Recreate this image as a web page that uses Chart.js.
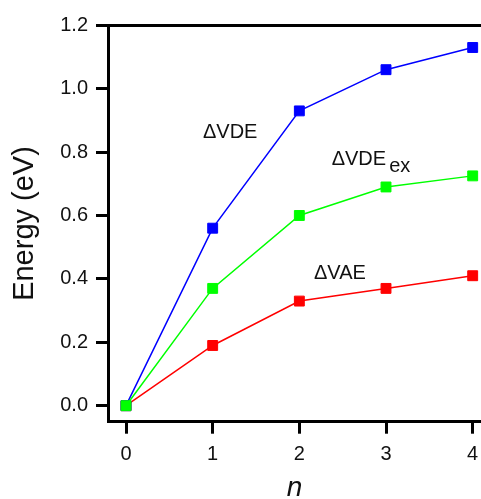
<!DOCTYPE html>
<html>
<head>
<meta charset="utf-8">
<script src="https://cdn.jsdelivr.net/npm/chart.js@4/dist/chart.umd.min.js"></script>
<style>
  html, body { margin: 0; padding: 0; background: #fff; }
  canvas { display: block; }
</style>
</head>
<body>
<canvas id="c" width="481" height="499"></canvas>
<script>
// ---- data ----
const nValues = [0, 1, 2, 3, 4];
const vde = [0, 0.56, 0.93, 1.06, 1.13];
const vdeEx = [0, 0.37, 0.60, 0.69, 0.725];
const vae = [0, 0.19, 0.33, 0.37, 0.41];
const xTicks = [0, 1, 2, 3, 4];
const yTicks = [0, 0.2, 0.4, 0.6, 0.8, 1.0, 1.2];
const curveLabels = [
  { text: 'ΔVDE', sub: '', x: 0.888, y: 0.845 },
  { text: 'ΔVDE', sub: 'ex', x: 2.373, y: 0.759 },
  { text: 'ΔVAE', sub: '', x: 2.169, y: 0.400 }
];

const FONT = '"Liberation Sans", Arial, Helvetica, sans-serif';

function pts(ys) { return nValues.map((n, i) => ({ x: n, y: ys[i] })); }

function ds(label, ys, color, order) {
  return {
    label, data: pts(ys), order,
    borderColor: color, backgroundColor: color,
    borderWidth: 1.5,
    pointStyle: 'rect', pointRadius: 7, pointBorderWidth: 1,
    pointBackgroundColor: color, pointBorderColor: color,
    pointHoverRadius: 7, tension: 0
  };
}

const topBorder = {
  id: 'topBorder',
  afterDraw(chart) {
    const { ctx, chartArea } = chart;
    ctx.save();
    ctx.strokeStyle = '#000';
    ctx.lineWidth = 3;
    const y = Math.round(chartArea.top - 1.5) + 1.5;
    ctx.beginPath();
    ctx.moveTo(chartArea.left - 1.5, y);
    ctx.lineTo(chartArea.right, y);
    ctx.stroke();
    ctx.restore();
  }
};

const curveText = {
  id: 'curveText',
  afterDatasetsDraw(chart) {
    const { ctx } = chart;
    const xs = chart.scales.x, ys = chart.scales.y;
    ctx.save();
    ctx.fillStyle = '#111';
    ctx.font = '20px ' + FONT;
    ctx.textAlign = 'left';
    ctx.textBaseline = 'alphabetic';
    curveLabels.forEach(l => {
      const px = xs.getPixelForValue(l.x);
      const py = ys.getPixelForValue(l.y);
      ctx.fillText(l.text, px, py);
      if (l.sub) {
        const w = ctx.measureText(l.text).width;
        ctx.fillText(l.sub, px + w + 3, py + 6.7);
      }
    });
    ctx.restore();
  }
};

new Chart(document.getElementById('c'), {
  type: 'line',
  data: {
    datasets: [
      ds('ΔVDE', vde, '#0000ff', 1),
      ds('ΔVDEex', vdeEx, '#00ff00', 0),
      ds('ΔVAE', vae, '#ff0000', 2)
    ]
  },
  options: {
    responsive: false,
    animation: false,
    devicePixelRatio: 1,
    layout: { autoPadding: false, padding: { top: 25.3, left: 0, right: 0, bottom: 0 } },
    plugins: { legend: { display: false }, tooltip: { enabled: false } },
    scales: {
      x: {
        type: 'linear',
        min: -0.2077, max: 4.096,
        afterBuildTicks: s => { s.ticks = xTicks.map(v => ({ value: v })); },
        afterFit: s => { s.height = 77.3; },
        grid: { display: true, drawOnChartArea: false, drawTicks: true, tickLength: 12, tickWidth: 3, tickColor: '#000' },
        border: { display: true, width: 3, color: '#000' },
        ticks: {
          padding: 0, maxRotation: 0, autoSkip: false, color: '#111',
          font: { family: FONT, size: 20, lineHeight: 2.11 },
          callback: v => String(v)
        },
        title: {
          display: true, text: 'n', color: '#111',
          font: { family: FONT, size: 28, style: 'italic', lineHeight: 0.76 },
          padding: 0
        }
      },
      y: {
        type: 'linear',
        min: -0.0505, max: 1.2,
        afterBuildTicks: s => { s.ticks = yTicks.map(v => ({ value: v })); },
        afterFit: s => { s.width = 108; },
        grid: { display: true, drawOnChartArea: false, drawTicks: true, tickLength: 12, tickWidth: 3, tickColor: '#000' },
        border: { display: true, width: 3, color: '#000' },
        ticks: {
          padding: 8, autoSkip: false, color: '#111',
          font: { family: FONT, size: 20 },
          callback: v => Number(v).toFixed(1)
        },
        title: {
          display: true, text: 'Energy (eV)', color: '#111',
          font: { family: FONT, size: 29 },
          padding: { top: 7.6, bottom: 0 }
        }
      }
    }
  },
  plugins: [topBorder, curveText]
});
</script>
</body>
</html>
